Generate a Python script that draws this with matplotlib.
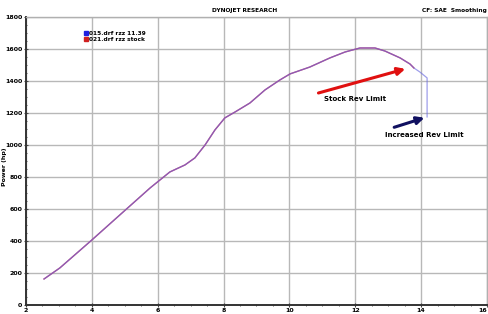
import matplotlib
matplotlib.use("Agg")
import matplotlib.pyplot as plt
from matplotlib.ticker import MultipleLocator

# engine speed (x1000 rpm) and power readings
rpm_stock = [2.55, 3.03, 3.97, 4.85, 5.77, 6.37, 6.83, 7.13, 7.44, 7.74, 8.04, 8.35,
             8.80, 9.26, 9.71, 10.02, 10.62, 11.23, 11.69, 12.14, 12.60, 12.90,
             13.36, 13.66, 13.78]
hp_stock = [162, 231, 400, 562, 731, 831, 875, 919, 1000, 1094, 1169, 1206,
            1262, 1344, 1406, 1444, 1487, 1544, 1581, 1606, 1606, 1587,
            1544, 1506, 1481]

rpm_mod = [2.55, 3.03, 3.97, 4.85, 5.77, 6.37, 6.83, 7.13, 7.44, 7.74, 8.04, 8.35,
           8.80, 9.26, 9.71, 10.02, 10.62, 11.23, 11.69, 12.14, 12.60, 12.90,
           13.36, 13.66, 13.78, 13.96, 14.18, 14.18]
hp_mod = [162, 231, 400, 562, 731, 831, 875, 919, 1000, 1094, 1169, 1206,
          1262, 1344, 1406, 1444, 1487, 1544, 1581, 1606, 1606, 1587,
          1544, 1506, 1481, 1456, 1419, 1175]

legend_labels = ["015.drf rzz 11.39", "021.drf rzz stock"]
x_ticks = [2, 4, 6, 8, 10, 12, 14, 16]
y_ticks = [0, 200, 400, 600, 800, 1000, 1200, 1400, 1600, 1800]

fig = plt.figure(figsize=(4.89, 3.14), dpi=100)
ax = fig.add_axes([0.053, 0.029, 0.943, 0.917])

ax.plot(rpm_stock, hp_stock, color="#c8406a", lw=1.0, label=legend_labels[1], zorder=3)
ax.plot(rpm_mod, hp_mod, color="#6a6ae0", lw=0.9, alpha=0.65, label=legend_labels[0], zorder=4)

ax.set_xlim(2, 16)
ax.set_ylim(0, 1800)
ax.set_xticks(x_ticks)
ax.set_yticks(y_ticks)
ax.xaxis.set_minor_locator(MultipleLocator(0.5))
ax.yaxis.set_minor_locator(MultipleLocator(50))
ax.tick_params(which="both", direction="inout", labelsize=4.5, pad=1, color="#444444")
ax.tick_params(which="major", length=3, width=0.8)
ax.tick_params(which="minor", length=2, width=0.6)
for lab in ax.get_xticklabels() + ax.get_yticklabels():
    lab.set_fontweight("bold")
ax.get_xticklabels()[-1].set_horizontalalignment("right")
ax.grid(True, which="major", color="#b8b8b8", lw=1.0)
for side in ["left", "bottom"]:
    ax.spines[side].set_color("#333333")
    ax.spines[side].set_linewidth(1.4)
for side in ["top", "right"]:
    ax.spines[side].set_color("#b0b0b0")
    ax.spines[side].set_linewidth(1.0)

ax.set_ylabel("Power (hp)", fontsize=4.5, fontweight="bold")
ax.yaxis.set_label_coords(-0.04, 0.48)

# legend as colored squares with text
h_mod = plt.Line2D([], [], marker="s", ls="none", color="#2020e0", markersize=3.5)
h_stock = plt.Line2D([], [], marker="s", ls="none", color="#d02020", markersize=3.5)
leg = ax.legend([h_mod, h_stock], legend_labels, loc="upper left",
                bbox_to_anchor=(0.12, 0.96), frameon=False, fontsize=4.2,
                handlelength=0.6, handletextpad=0.3, labelspacing=0.1, borderpad=0)
for t in leg.get_texts():
    t.set_fontweight("bold")

ax.annotate("", xy=(13.6, 1480), xytext=(10.8, 1320),
            arrowprops=dict(arrowstyle="-|>", color="#e01010", lw=2.2, mutation_scale=11))
ax.text(12.0, 1285, "Stock Rev Limit", fontsize=5, fontweight="bold", ha="center", va="center")
ax.annotate("", xy=(14.18, 1175), xytext=(13.1, 1105),
            arrowprops=dict(arrowstyle="-|>", color="#101060", lw=2.2, mutation_scale=11))
ax.text(14.1, 1060, "Increased Rev Limit", fontsize=5, fontweight="bold", ha="center", va="center")

fig.text(0.5, 0.968, "DYNOJET RESEARCH", fontsize=4.2, fontweight="bold", ha="center", va="center")
fig.text(0.996, 0.968, "CF: SAE  Smoothing", fontsize=4.2, fontweight="bold", ha="right", va="center")

fig.savefig("out.png", dpi=100)
